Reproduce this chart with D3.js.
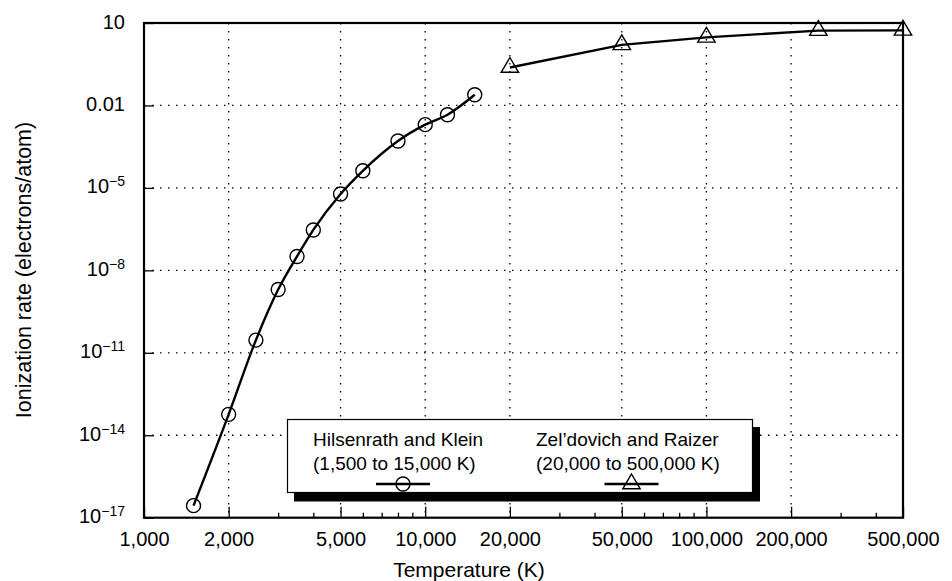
<!DOCTYPE html>
<html>
<head>
<meta charset="utf-8">
<script src="https://cdn.jsdelivr.net/npm/d3@7"></script>
<style>
  body { margin: 0; background: #fff; }
  svg { display: block; font-family: "Liberation Sans", Arial, sans-serif; }
</style>
</head>
<body>
<svg id="chart" width="952" height="581"></svg>
<script>
// Hilsenrath and Klein (1,500 to 15,000 K)
var hkTemps = [1500, 2000, 2500, 3000, 3500, 4000, 5000, 6000, 8000, 10000, 12000, 15000]
var hkRates = [2.75e-17, 5.75e-14, 2.9e-11, 2.0e-9, 3.2e-8, 2.95e-7, 6.0e-6, 4.2e-5, 5.1e-4, 2.0e-3, 4.6e-3, 2.45e-2]
// Zel'dovich and Raizer (20,000 to 500,000 K)
var zrTemps = [20000, 50000, 100000, 250000, 500000]
var zrRates = [0.24, 1.6, 3.0, 5.3, 5.4]

var xTicks = [1000, 2000, 5000, 10000, 20000, 50000, 100000, 200000, 500000]
var xMinor = [3000, 4000, 6000, 7000, 8000, 9000, 30000, 40000, 60000, 70000, 80000, 90000, 300000, 400000]
var yTicks = [1e-17, 1e-14, 1e-11, 1e-8, 1e-5, 0.01, 10]
var yTickExp = [-17, -14, -11, -8, -5, null, null]
var yTickText = [null, null, null, null, null, "0.01", "10"]

var legendItems = [
  {name: "Hilsenrath and Klein", range: "(1,500 to 15,000 K)", symbol: "circle"},
  {name: "Zel\u2019dovich and Raizer", range: "(20,000 to 500,000 K)", symbol: "triangle"}
]

// plot frame (window.top is reserved, so prefixed names)
var pLeft = 144, pRight = 903, pTop = 23, pBottom = 517.7

var svg = d3.select("svg#chart")

var x = d3.scaleLog().domain([1000, 500000]).range([pLeft, pRight])
var y = d3.scaleLog().domain([1e-17, 10]).range([pBottom, pTop])

// gridlines
var grid = svg.append("g")
    .attr("stroke", "#000")
    .attr("stroke-width", 1.3)
    .attr("stroke-dasharray", "1.5,6.5")
grid.selectAll("line.v")
  .data(xTicks.slice(1, -1))
  .enter().append("line")
    .attr("x1", d => x(d)).attr("x2", d => x(d))
    .attr("y1", pTop).attr("y2", pBottom)
grid.selectAll("line.h")
  .data(yTicks.slice(1, -1))
  .enter().append("line")
    .attr("y1", d => y(d)).attr("y2", d => y(d))
    .attr("x1", pLeft).attr("x2", pRight)

// x axis
var xAxis = svg.append("g")
    .attr("transform", "translate(0," + pBottom + ")")
    .call(d3.axisBottom(x).tickValues(xTicks).tickSize(-11).tickPadding(14)
      .tickFormat(d3.format(",")))
xAxis.select(".domain").remove()
xAxis.selectAll(".tick line").attr("stroke-width", 1.3)
xAxis.selectAll("text").attr("font-size", 20).attr("fill", "#000")
xAxis.attr("font-family", null)

var xAxisMinor = svg.append("g")
    .attr("transform", "translate(0," + pBottom + ")")
    .call(d3.axisBottom(x).tickValues(xMinor).tickSize(-5).tickFormat(""))
xAxisMinor.select(".domain").remove()
xAxisMinor.selectAll(".tick line").attr("stroke-width", 1.3)

// y axis
var yAxis = svg.append("g")
    .attr("transform", "translate(" + pLeft + ",0)")
    .call(d3.axisLeft(y).tickValues(yTicks).tickSize(-10).tickPadding(19).tickFormat(""))
yAxis.select(".domain").remove()
yAxis.attr("font-family", null)
yAxis.selectAll(".tick line").attr("stroke-width", 1.3)
yAxis.selectAll(".tick text")
    .attr("font-size", 20).attr("fill", "#000")
    .attr("dy", "0.25em")
    .each(function(d, i) {
      var t = d3.select(this)
      if (yTickText[i]) { t.text(yTickText[i]); return }
      t.append("tspan").text("10")
      t.append("tspan").attr("font-size", 14).attr("dy", -7).text("\u2212" + Math.abs(yTickExp[i]))
    })

// frame
svg.append("rect")
    .attr("x", pLeft).attr("y", pTop)
    .attr("width", pRight - pLeft).attr("height", pBottom - pTop)
    .attr("fill", "none").attr("stroke", "#000").attr("stroke-width", 2.2)

// series
var hk = hkTemps.map((t, i) => ({t: t, r: hkRates[i]}))
var zr = zrTemps.map((t, i) => ({t: t, r: zrRates[i]}))

var line = d3.line().x(d => x(d.t)).y(d => y(d.r))

svg.append("path").datum(hk)
    .attr("d", line.curve(d3.curveMonotoneX))
    .attr("fill", "none").attr("stroke", "#000").attr("stroke-width", 2.4)
svg.append("path").datum(zr)
    .attr("d", line.curve(d3.curveLinear))
    .attr("fill", "none").attr("stroke", "#000").attr("stroke-width", 2.4)

var triPath = "M0,-10L8.7,4.8L-8.7,4.8Z"

svg.append("g").selectAll("circle")
  .data(hk)
  .enter().append("circle")
    .attr("cx", d => x(d.t)).attr("cy", d => y(d.r)).attr("r", 7)
    .attr("fill", "none").attr("stroke", "#000").attr("stroke-width", 1.4)

svg.append("g").selectAll("path")
  .data(zr)
  .enter().append("path")
    .attr("transform", d => "translate(" + x(d.t) + "," + y(d.r) + ")")
    .attr("d", triPath)
    .attr("fill", "none").attr("stroke", "#000").attr("stroke-width", 1.4)

// legend
var lg = svg.append("g")
lg.append("rect")
    .attr("x", 294).attr("y", 427).attr("width", 466).attr("height", 74.5)
    .attr("fill", "#000")
lg.append("rect")
    .attr("x", 287.5).attr("y", 419.5).attr("width", 465).attr("height", 73)
    .attr("fill", "#fff").attr("stroke", "#000").attr("stroke-width", 1.2)

var legX = [313, 536]
var legSym = [403, 631.5]
legendItems.forEach(function(item, i) {
  lg.append("text").attr("x", legX[i]).attr("y", 445.5)
      .attr("font-size", 19).text(item.name)
  lg.append("text").attr("x", legX[i]).attr("y", 470)
      .attr("font-size", 19).text(item.range)
  lg.append("line")
      .attr("x1", legSym[i] - 27).attr("x2", legSym[i] + 27)
      .attr("y1", 484).attr("y2", 484)
      .attr("stroke", "#000").attr("stroke-width", 2.4)
  if (item.symbol == "circle") {
    lg.append("circle").attr("cx", legSym[i]).attr("cy", 484).attr("r", 7)
        .attr("fill", "none").attr("stroke", "#000").attr("stroke-width", 1.4)
  } else {
    lg.append("path").attr("transform", "translate(" + legSym[i] + ",484)")
        .attr("d", triPath)
        .attr("fill", "none").attr("stroke", "#000").attr("stroke-width", 1.4)
  }
})

// axis titles
svg.append("text")
    .attr("x", 469).attr("y", 577)
    .attr("text-anchor", "middle").attr("font-size", 21)
    .text("Temperature (K)")
svg.append("text")
    .attr("transform", "translate(31,270) rotate(-90)")
    .attr("text-anchor", "middle").attr("font-size", 21.5)
    .text("Ionization rate (electrons/atom)")
</script>
</body>
</html>
